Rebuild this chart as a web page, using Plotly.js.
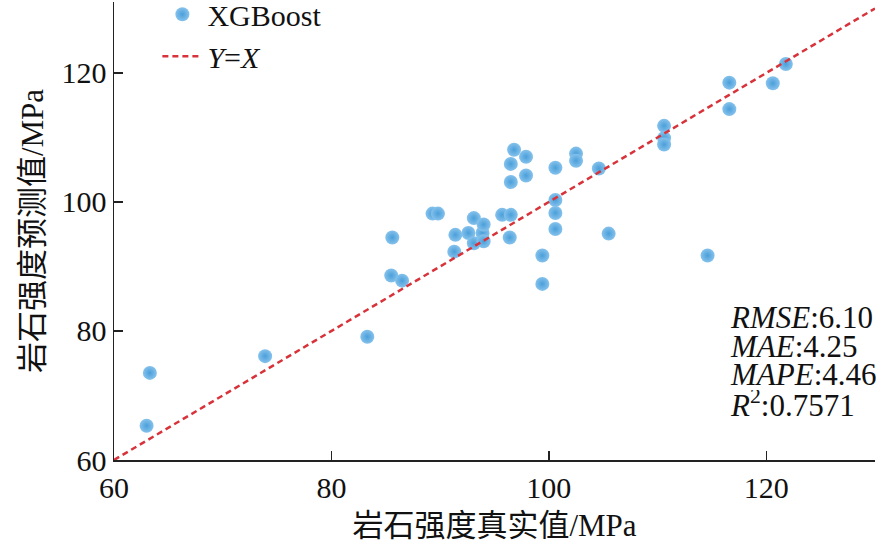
<!DOCTYPE html>
<html>
<head>
<meta charset="utf-8">
<script src="https://cdn.plot.ly/plotly-3.0.1.min.js"></script>
<style>html,body{margin:0;padding:0;background:#fff;}#chart{width:886px;height:553px;}</style>
</head>
<body>
<div id="chart"></div>
<script>
var trueValues = [63.0, 63.3, 73.9, 83.3, 85.5, 86.5, 85.6, 89.3, 89.8, 91.3, 91.4, 92.6, 93.1, 93.9, 94.0, 93.1, 94.0, 95.7, 96.5, 96.4, 96.8, 97.9, 96.5, 97.9, 96.5, 100.6, 102.5, 102.5, 104.6, 100.6, 100.6, 100.6, 105.5, 99.4, 99.4, 110.6, 110.6, 110.6, 116.6, 116.6, 120.6, 121.8, 114.6];
var predValues = [65.3, 73.5, 76.1, 79.1, 88.6, 87.8, 94.5, 98.2, 98.2, 92.3, 94.9, 95.2, 97.5, 95.2, 96.5, 93.6, 93.9, 98.0, 98.0, 94.5, 108.1, 107.0, 105.9, 104.1, 103.1, 105.3, 107.5, 106.4, 105.2, 100.3, 98.3, 95.8, 95.1, 91.7, 87.3, 111.8, 109.9, 108.9, 114.4, 118.5, 118.4, 121.4, 91.7];
var lineX = [60, 130];
var lineY = [60, 130];
var xTicks = [60, 80, 100, 120];
var yTicks = [60, 80, 100, 120];
var metricLabels = ['<i>RMSE</i>:6.10', '<i>MAE</i>:4.25', '<i>MAPE</i>:4.46', '<i>R</i><sup>2</sup>:0.7571'];
var metricY = [82.1, 77.7, 73.3, 68.8];

var serif = 'Liberation Serif, Times New Roman, serif';
var cjk = 'Liberation Serif, Noto Sans CJK SC, serif';

var traces = [
  {
    x: trueValues, y: predValues, type: 'scatter', mode: 'markers', name: 'XGBoost',
    marker: {size: 14, color: '#86c2ec', gradient: {type: 'radial', color: '#4a9fda'}, line: {width: 0}}
  },
  {
    x: lineX, y: lineY, type: 'scatter', mode: 'lines', name: '<i>Y</i>=<i>X</i>',
    line: {color: '#d8323a', width: 2.5, dash: '6px,4px'}
  }
];

var annotations = metricLabels.map(function (t, i) {
  return {x: 116.5, y: metricY[i], xref: 'x', yref: 'y', text: t, showarrow: false,
    xanchor: 'left', yanchor: 'middle', height: 26,
    font: {family: serif, size: 31, color: '#111'}};
});

var layout = {
  width: 886, height: 553,
  margin: {l: 114, r: 11, t: 2, b: 93, autoexpand: false},
  paper_bgcolor: '#fff', plot_bgcolor: '#fff',
  showlegend: true,
  legend: {x: 0.057, y: 1.03, xanchor: 'left', yanchor: 'top', bgcolor: 'rgba(0,0,0,0)',
    font: {family: serif, size: 30, color: '#111'}, tracegroupgap: 0, itemwidth: 40},
  xaxis: {
    range: [60, 130], tickvals: xTicks, ticktext: xTicks.map(String),
    showgrid: false, zeroline: false, showline: true, linecolor: '#222', linewidth: 1.5,
    ticks: 'inside', ticklen: 9, tickwidth: 1.5, tickcolor: '#222',
    tickfont: {family: serif, size: 30, color: '#111'},
    title: {text: '岩石强度真实值/MPa', font: {family: cjk, size: 31, color: '#111'}, standoff: 12}
  },
  yaxis: {
    range: [60, 131], tickvals: yTicks, ticktext: yTicks.map(String),
    showgrid: false, zeroline: false, showline: true, linecolor: '#222', linewidth: 1.5,
    ticks: 'inside', ticklen: 9, tickwidth: 1.5, tickcolor: '#222',
    tickfont: {family: serif, size: 30, color: '#111'},
    title: {text: '岩石强度预测值/MPa', font: {family: cjk, size: 31, color: '#111'}, standoff: 8}
  },
  annotations: annotations
};

Plotly.newPlot('chart', traces, layout, {displayModeBar: false, staticPlot: true});
</script>
</body>
</html>
